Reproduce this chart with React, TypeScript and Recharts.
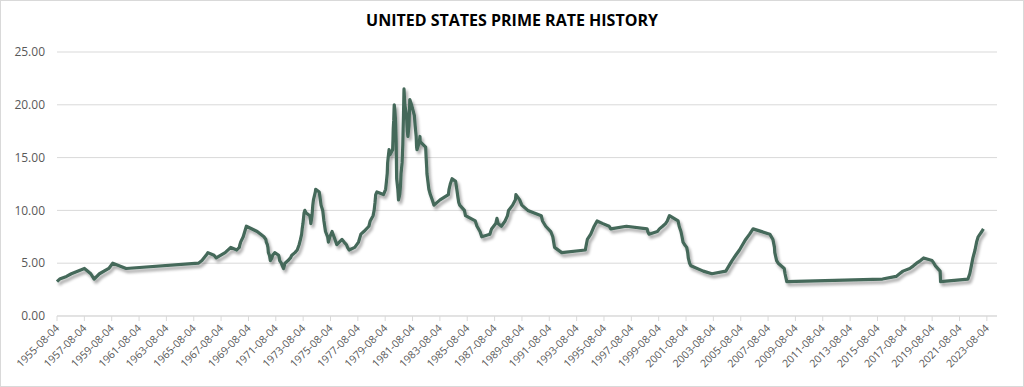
import { LineChart, Line, XAxis, YAxis, CartesianGrid } from 'recharts';

// prime rate change points, [date, rate %]
const rates1950s: [string, number][] = [
  ['1955-08-04', 3.25], ['1955-10-14', 3.5], ['1956-04-13', 3.75], ['1956-08-21', 4.0],
  ['1957-08-06', 4.5], ['1958-01-22', 4.0], ['1958-04-21', 3.5], ['1958-09-11', 4.0],
  ['1959-05-18', 4.5], ['1959-09-01', 5.0],
];

const rates1960s: [string, number][] = [
  ['1960-08-23', 4.5], ['1965-12-06', 5.0], ['1966-03-10', 5.25], ['1966-06-29', 5.75],
  ['1966-08-16', 6.0], ['1967-01-26', 5.75], ['1967-03-27', 5.5], ['1967-11-20', 6.0],
  ['1968-04-19', 6.5], ['1968-09-25', 6.25], ['1968-12-02', 6.5], ['1968-12-18', 6.75],
  ['1969-01-07', 7.0], ['1969-03-17', 7.5], ['1969-06-09', 8.5],
];

const rates1970s: [string, number][] = [
  ['1970-03-25', 8.0], ['1970-09-21', 7.5], ['1970-11-12', 7.25], ['1970-11-23', 7.0],
  ['1970-12-22', 6.75], ['1971-01-06', 6.5], ['1971-01-18', 6.0], ['1971-02-16', 5.75],
  ['1971-03-11', 5.25], ['1971-04-23', 5.5], ['1971-05-11', 5.75], ['1971-07-06', 6.0],
  ['1971-10-20', 5.75], ['1971-11-04', 5.5], ['1971-11-15', 5.25], ['1971-12-31', 5.0],
  ['1972-01-24', 4.75], ['1972-02-28', 4.5], ['1972-04-05', 5.0], ['1972-06-26', 5.25],
  ['1972-08-29', 5.5], ['1972-10-04', 5.75], ['1972-12-27', 6.0], ['1973-02-26', 6.25],
  ['1973-04-18', 6.75], ['1973-05-25', 7.25], ['1973-06-25', 7.75], ['1973-07-09', 8.25],
  ['1973-07-30', 8.75], ['1973-08-13', 9.25], ['1973-08-28', 9.75], ['1973-09-18', 10.0],
  ['1973-10-24', 9.75], ['1974-01-29', 9.5], ['1974-02-19', 9.0], ['1974-02-25', 8.75],
  ['1974-03-29', 9.5], ['1974-04-19', 10.5], ['1974-05-06', 11.0], ['1974-06-26', 11.75],
  ['1974-07-05', 12.0], ['1974-10-07', 11.75], ['1974-10-28', 11.25], ['1974-11-25', 10.5],
  ['1975-01-09', 10.0], ['1975-02-10', 9.0], ['1975-03-24', 8.0], ['1975-05-20', 7.5],
  ['1975-06-09', 7.0], ['1975-07-18', 7.5], ['1975-09-15', 8.0], ['1975-11-05', 7.5],
  ['1975-12-02', 7.25], ['1976-01-21', 6.75], ['1976-06-07', 7.25], ['1976-08-02', 7.0],
  ['1976-10-04', 6.75], ['1976-11-01', 6.5], ['1976-12-13', 6.25], ['1977-05-13', 6.5],
  ['1977-08-22', 7.0], ['1977-10-24', 7.75], ['1978-01-10', 8.0], ['1978-05-26', 8.5],
  ['1978-06-30', 9.0], ['1978-09-15', 9.5], ['1978-10-13', 10.0], ['1978-11-06', 10.75],
  ['1978-11-24', 11.5], ['1978-12-26', 11.75], ['1979-06-19', 11.5], ['1979-08-16', 12.0],
  ['1979-09-07', 12.75], ['1979-09-28', 13.5], ['1979-10-09', 14.5], ['1979-10-23', 15.0],
  ['1979-11-16', 15.75], ['1979-12-07', 15.25],
];

const rates1980s: [string, number][] = [
  ['1980-02-19', 15.75], ['1980-02-29', 16.75], ['1980-03-07', 17.75], ['1980-03-19', 18.5],
  ['1980-03-28', 19.5], ['1980-04-02', 20.0], ['1980-04-18', 19.5], ['1980-05-07', 18.5],
  ['1980-05-23', 16.5], ['1980-06-06', 13.0], ['1980-07-07', 12.0], ['1980-07-25', 11.0],
  ['1980-08-27', 11.5], ['1980-09-19', 12.5], ['1980-10-01', 13.5], ['1980-10-29', 14.5],
  ['1980-11-17', 16.25], ['1980-11-26', 17.75], ['1980-12-05', 19.0], ['1980-12-16', 21.0],
  ['1980-12-19', 21.5], ['1981-01-09', 20.0], ['1981-02-23', 19.0], ['1981-03-17', 17.5],
  ['1981-04-02', 17.0], ['1981-04-30', 18.0], ['1981-05-19', 20.0], ['1981-05-22', 20.5],
  ['1981-07-08', 20.0], ['1981-09-21', 19.0], ['1981-10-13', 18.0], ['1981-11-09', 17.0],
  ['1981-11-20', 16.0], ['1981-12-01', 15.75], ['1982-02-02', 16.5], ['1982-02-18', 17.0],
  ['1982-02-23', 16.5], ['1982-07-20', 16.0], ['1982-08-02', 15.0], ['1982-08-18', 14.0],
  ['1982-08-23', 13.5], ['1982-10-14', 12.0], ['1982-11-22', 11.5], ['1983-01-11', 11.0],
  ['1983-02-28', 10.5], ['1983-08-08', 11.0], ['1984-03-19', 11.5], ['1984-04-05', 12.0],
  ['1984-05-08', 12.5], ['1984-06-25', 13.0], ['1984-09-27', 12.75], ['1984-10-29', 12.0],
  ['1984-11-28', 11.25], ['1984-12-20', 10.75], ['1985-01-15', 10.5], ['1985-05-20', 10.0],
  ['1985-06-18', 9.5], ['1986-03-07', 9.0], ['1986-04-21', 8.5], ['1986-07-11', 8.0],
  ['1986-08-26', 7.5], ['1987-04-01', 7.75], ['1987-05-15', 8.25], ['1987-09-04', 8.75],
  ['1987-10-07', 9.25], ['1987-11-05', 8.75], ['1988-02-02', 8.5], ['1988-05-11', 9.0],
  ['1988-07-14', 9.5], ['1988-08-11', 10.0], ['1988-11-28', 10.5], ['1989-02-10', 11.0],
  ['1989-02-24', 11.5], ['1989-06-05', 11.0], ['1989-07-31', 10.5],
];

const rates1990s: [string, number][] = [
  ['1990-01-08', 10.0], ['1991-01-02', 9.5], ['1991-02-04', 9.0], ['1991-05-01', 8.5],
  ['1991-09-13', 8.0], ['1991-11-06', 7.5], ['1991-12-23', 6.5], ['1992-07-02', 6.0],
  ['1994-03-24', 6.25], ['1994-04-19', 6.75], ['1994-05-17', 7.25], ['1994-08-16', 7.75],
  ['1994-11-15', 8.5], ['1995-02-01', 9.0], ['1995-07-07', 8.75], ['1995-12-20', 8.5],
  ['1996-02-01', 8.25], ['1997-03-26', 8.5], ['1998-09-30', 8.25], ['1998-10-16', 8.0],
  ['1998-11-18', 7.75], ['1999-07-01', 8.0], ['1999-08-25', 8.25], ['1999-11-17', 8.5],
];

const rates2000s: [string, number][] = [
  ['2000-02-03', 8.75], ['2000-03-22', 9.0], ['2000-05-17', 9.5], ['2001-01-04', 9.0],
  ['2001-02-01', 8.5], ['2001-03-21', 8.0], ['2001-04-19', 7.5], ['2001-05-16', 7.0],
  ['2001-06-28', 6.75], ['2001-08-22', 6.5], ['2001-09-18', 6.0], ['2001-10-03', 5.5],
  ['2001-11-07', 5.0], ['2001-12-12', 4.75], ['2002-11-07', 4.25], ['2003-06-27', 4.0],
  ['2004-07-01', 4.25], ['2004-09-22', 4.75], ['2004-12-15', 5.25], ['2005-03-22', 5.75],
  ['2005-07-01', 6.25], ['2005-09-21', 6.75], ['2005-12-14', 7.25], ['2006-03-29', 7.75],
  ['2006-06-29', 8.25], ['2007-09-19', 7.75], ['2007-11-01', 7.5], ['2007-12-12', 7.25],
  ['2008-01-22', 6.5], ['2008-01-31', 6.0], ['2008-03-19', 5.25], ['2008-05-01', 5.0],
  ['2008-10-09', 4.5], ['2008-10-30', 4.0], ['2008-12-16', 3.25],
];

const rates2010s: [string, number][] = [
  ['2015-12-17', 3.5], ['2016-12-15', 3.75], ['2017-03-16', 4.0], ['2017-06-15', 4.25],
  ['2017-12-14', 4.5], ['2018-03-22', 4.75], ['2018-06-14', 5.0], ['2018-09-27', 5.25],
  ['2018-12-20', 5.5], ['2019-08-01', 5.25], ['2019-09-19', 5.0], ['2019-10-31', 4.75],
];

const rates2020s: [string, number][] = [
  ['2020-03-04', 4.25], ['2020-03-16', 3.25], ['2022-03-17', 3.5], ['2022-05-05', 4.0],
  ['2022-06-16', 4.75], ['2022-07-28', 5.5], ['2022-09-22', 6.25], ['2022-11-03', 7.0],
  ['2022-12-15', 7.5], ['2023-02-02', 7.75], ['2023-03-23', 8.0], ['2023-05-04', 8.25],
];

const tickDates = [
  '1955-08-04', '1957-08-04', '1959-08-04', '1961-08-04', '1963-08-04', '1965-08-04',
  '1967-08-04', '1969-08-04', '1971-08-04', '1973-08-04', '1975-08-04', '1977-08-04',
  '1979-08-04', '1981-08-04', '1983-08-04', '1985-08-04', '1987-08-04', '1989-08-04',
  '1991-08-04', '1993-08-04', '1995-08-04', '1997-08-04', '1999-08-04', '2001-08-04',
  '2003-08-04', '2005-08-04', '2007-08-04', '2009-08-04', '2011-08-04', '2013-08-04',
  '2015-08-04', '2017-08-04', '2019-08-04', '2021-08-04', '2023-08-04',
];

const yTicks = [0, 5, 10, 15, 20, 25];

const toTime = (d: string) => Date.parse(d + 'T00:00:00Z');

const data = [
  ...rates1950s, ...rates1960s, ...rates1970s, ...rates1980s,
  ...rates1990s, ...rates2000s, ...rates2010s, ...rates2020s,
].map(([date, rate]) => ({ t: toTime(date), rate }));

const xTicks = tickDates.map(toTime);
const xMin = toTime('1955-08-04');
const xMax = toTime('2024-05-01');

const fmtDate = (t: number) => new Date(t).toISOString().slice(0, 10);

const DateTick = (props: any) => {
  const { x, y, payload } = props;
  const ax = x + 1;
  const ay = y + 4;
  return (
    <text
      x={ax}
      y={ay}
      textAnchor="end"
      fontSize={10.6}
      fill="#595959"
      fontFamily="'Open Sans', 'Liberation Sans', sans-serif"
      transform={`rotate(-45, ${ax}, ${ay})`}
      dominantBaseline="middle"
    >
      {fmtDate(payload.value)}
    </text>
  );
};

export default function App() {
  return (
    <div
      style={{
        position: 'absolute',
        left: 0,
        top: 0,
        width: 1022,
        height: 385,
        border: '1px solid #d9d9d9',
        background: '#fff',
      }}
    >
      <div
        style={{
          position: 'absolute',
          top: 8,
          width: '100%',
          textAlign: 'center',
          fontFamily: "'Open Sans', 'Liberation Sans', sans-serif",
          fontWeight: 700,
          fontSize: 16,
          color: '#000',
        }}
      >
        UNITED STATES PRIME RATE HISTORY
      </div>
      <LineChart
        width={1022}
        height={385}
        data={data}
        margin={{ top: 51, right: 26, bottom: 0, left: 0 }}
        style={{ position: 'absolute', left: 0, top: 0 }}
      >
        <defs>
          <filter id="lineShadow" x="-5%" y="-5%" width="110%" height="120%">
            <feGaussianBlur in="SourceAlpha" stdDeviation="1.6" />
            <feOffset dx="2" dy="3" result="blur" />
            <feComponentTransfer>
              <feFuncA type="linear" slope="0.35" />
            </feComponentTransfer>
            <feMerge>
              <feMergeNode />
              <feMergeNode in="SourceGraphic" />
            </feMerge>
          </filter>
        </defs>
        <CartesianGrid vertical={false} stroke="#d9d9d9" />
        <XAxis
          dataKey="t"
          type="number"
          scale="time"
          domain={[xMin, xMax]}
          ticks={xTicks}
          interval={0}
          height={70}
          stroke="#d9d9d9"
          tickSize={5}
          tick={<DateTick />}
        />
        <YAxis
          type="number"
          domain={[0, 25]}
          ticks={yTicks}
          width={56}
          axisLine={false}
          tickLine={false}
          tickMargin={6}
          tickFormatter={(v: number) => v.toFixed(2)}
          tick={{
            fontSize: 12,
            fill: '#595959',
            fontFamily: "'Open Sans', 'Liberation Sans', sans-serif",
          }}
        />
        <Line
          type="linear"
          dataKey="rate"
          stroke="#44695a"
          strokeWidth={3.2}
          strokeLinejoin="round"
          dot={false}
          activeDot={false}
          filter="url(#lineShadow)"
          isAnimationActive={false}
        />
      </LineChart>
    </div>
  );
}
